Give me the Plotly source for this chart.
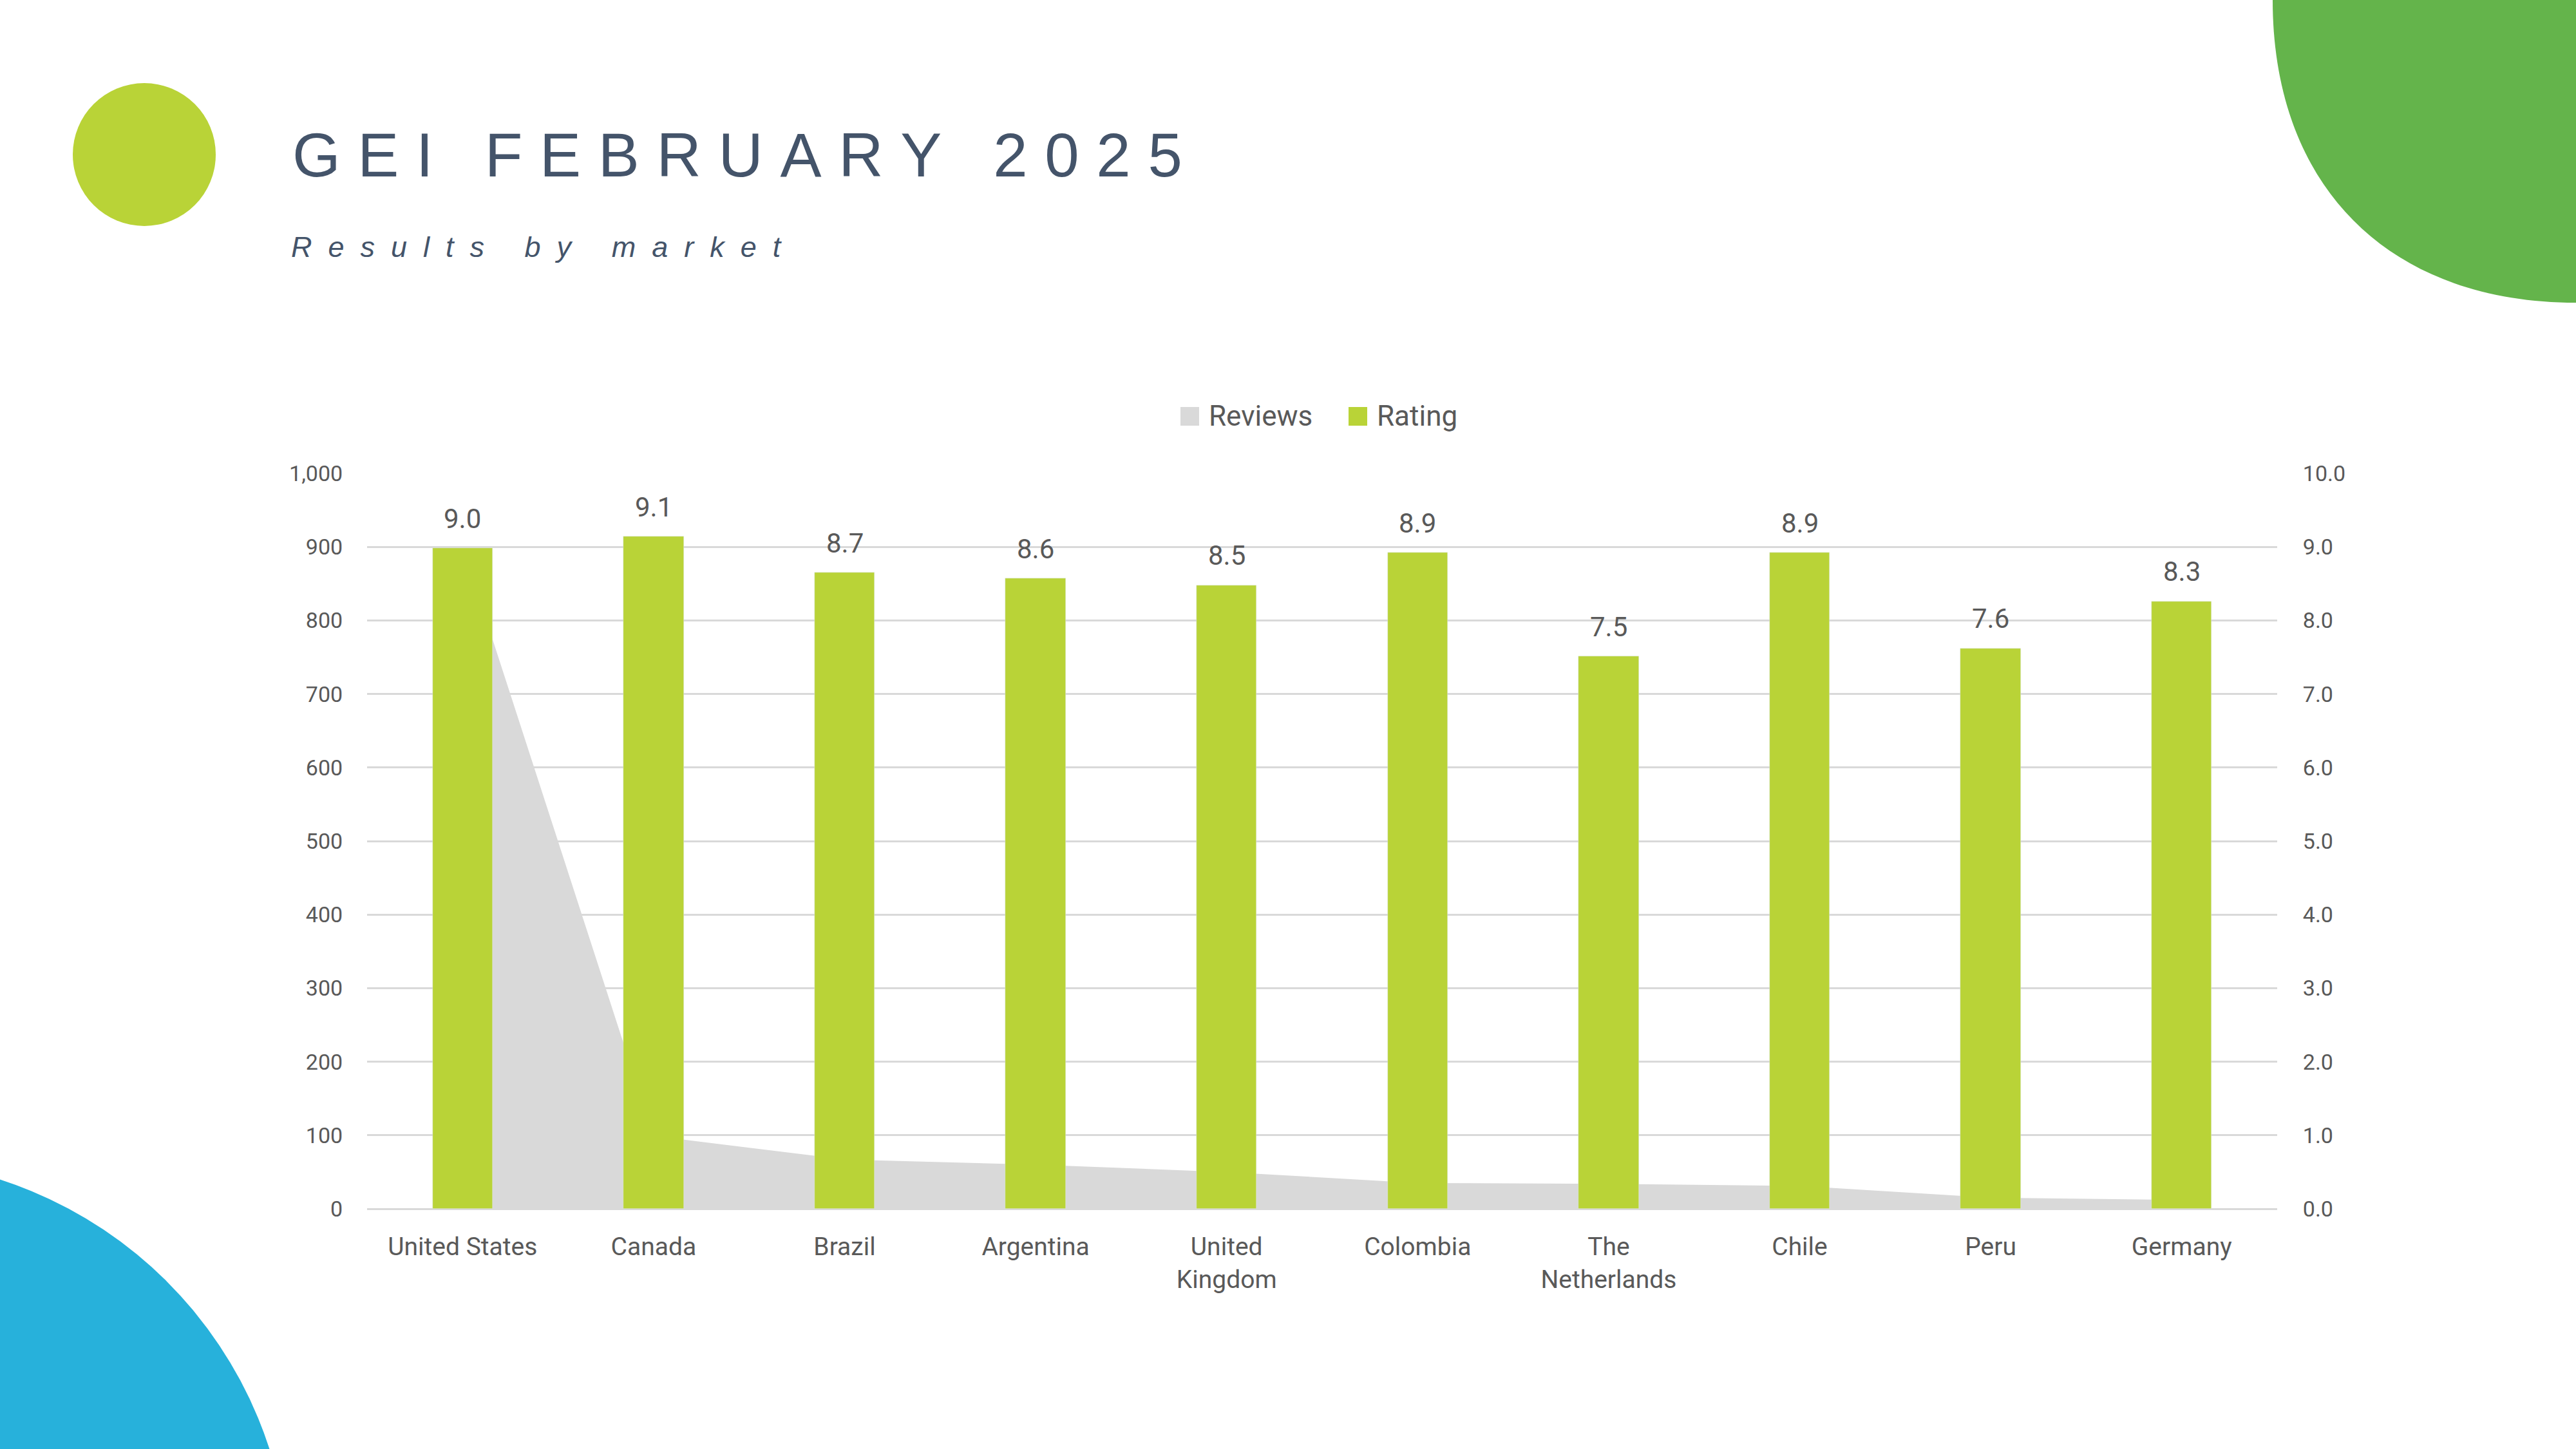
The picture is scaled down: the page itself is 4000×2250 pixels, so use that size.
import plotly.graph_objects as go

# ---------------- data ----------------
markets = ["United States", "Canada", "Brazil", "Argentina", "United<br>Kingdom",
           "Colombia", "The<br>Netherlands", "Chile", "Peru", "Germany"]
reviews = [900, 99, 67, 60, 50, 35, 34, 31, 15, 12]
rating = [8.98, 9.14, 8.65, 8.57, 8.48, 8.92, 7.51, 8.92, 7.62, 8.26]
legend_names = ["Reviews", "Rating"]
title_text = "GEI FEBRUARY 2025"
subtitle_text = "Results by market"

# ---------------- styling ----------------
W, H = 4000, 2250
BAR = "#B9D337"
AREA = "#D9D9D9"
GRID = "#D9D9D9"
TXT = "#595959"
TITLE = "#44546A"
CHART_FONT = "Roboto"
TITLE_FONT = "Liberation Sans"


def px(x):
    return x / W


def py(y):
    return 1 - y / H


def spaced(text, sep, wordsep):
    return wordsep.join(sep.join(list(w)) for w in text.split(" "))


fig = go.Figure()

fig.add_trace(go.Scatter(
    x=markets, y=reviews, name=legend_names[0], mode="none",
    fill="tozeroy", fillcolor=AREA, yaxis="y", showlegend=False,
))
fig.add_trace(go.Bar(
    x=markets, y=rating, name=legend_names[1], marker_color=BAR,
    width=0.315, yaxis="y2", showlegend=False,
))

annotations = []
for m, r in zip(markets, rating):
    annotations.append(dict(
        x=m, y=r, xref="x", yref="y2", text=f"{r:.1f}", showarrow=False,
        yanchor="middle", yshift=46,
        font=dict(family=CHART_FONT, size=42, color=TXT),
    ))

# title & subtitle
annotations.append(dict(
    x=px(452), y=py(240), xref="paper", yref="paper", xanchor="left", yanchor="middle",
    text=spaced(title_text, "\u00a0", "\u00a0\u00a0\u00a0"), showarrow=False,
    font=dict(family=TITLE_FONT, size=96, color=TITLE),
))
annotations.append(dict(
    x=px(450), y=py(384), xref="paper", yref="paper", xanchor="left", yanchor="middle",
    text="<i>" + spaced(subtitle_text, "\u00a0\u00a0", "\u00a0\u00a0\u00a0\u00a0\u00a0") + "</i>",
    showarrow=False,
    font=dict(family=TITLE_FONT, size=45, color=TITLE),
))

# custom legend
shapes = []
leg_items = [(legend_names[0], AREA, 1833), (legend_names[1], BAR, 2094)]
for name, col, x0 in leg_items:
    shapes.append(dict(type="rect", xref="paper", yref="paper",
                       x0=px(x0), x1=px(x0 + 29), y0=py(661), y1=py(632),
                       fillcolor=col, line=dict(width=0)))
    annotations.append(dict(
        x=px(x0 + 42), y=py(646), xref="paper", yref="paper", xanchor="left",
        yanchor="middle", text=name, showarrow=False,
        font=dict(family=CHART_FONT, size=44, color=TXT),
    ))

# decorations
shapes.append(dict(type="circle", xref="paper", yref="paper",
                   x0=px(113), x1=px(335), y0=py(351), y1=py(129),
                   fillcolor=BAR, line=dict(width=0), layer="below"))
p = [(3529, 0), (3529, 290), (3710, 470), (4000, 470)]
path = (f"M {px(4000)},{py(0)} L {px(p[0][0])},{py(p[0][1])} "
        f"C {px(p[1][0])},{py(p[1][1])} {px(p[2][0])},{py(p[2][1])} {px(p[3][0])},{py(p[3][1])} Z")
shapes.append(dict(type="path", xref="paper", yref="paper", path=path,
                   fillcolor="#64B44B", line=dict(width=0), layer="below"))
shapes.append(dict(type="circle", xref="paper", yref="paper",
                   x0=px(-850), x1=px(450), y0=py(3100), y1=py(1800),
                   fillcolor="#27B1DB", line=dict(width=0), layer="below"))

fig.update_layout(
    width=W, height=H,
    margin=dict(l=0, r=0, t=0, b=0),
    paper_bgcolor="white", plot_bgcolor="white",
    bargap=0,
    annotations=annotations,
    shapes=shapes,
    xaxis=dict(
        domain=[px(570), px(3536)], range=[-0.5, 9.5], type="category",
        showgrid=False, showline=False, zeroline=False,
        ticks="outside", ticklen=24, tickcolor="rgba(0,0,0,0)",
        tickfont=dict(family=CHART_FONT, size=39, color=TXT), automargin=False,
    ),
    yaxis=dict(
        domain=[py(1877), py(735)], range=[0, 1000], dtick=100, tickformat=",",
        showgrid=True, gridcolor=GRID, gridwidth=3,
        zeroline=True, zerolinecolor=GRID, zerolinewidth=3, showline=False,
        ticks="outside", ticklen=30, tickcolor="rgba(0,0,0,0)",
        tickfont=dict(family=CHART_FONT, size=34, color=TXT), automargin=False,
    ),
    yaxis2=dict(
        overlaying="y", side="right", range=[0, 10], dtick=1, tickformat=".1f",
        showgrid=False, zeroline=False, showline=False,
        ticks="outside", ticklen=32, tickcolor="rgba(0,0,0,0)",
        tickfont=dict(family=CHART_FONT, size=34, color=TXT), automargin=False,
    ),
)

fig.write_html(
    "out.html",
    config={"displayModeBar": False},
    post_script="document.body.style.margin='0';document.body.style.padding='0';"
                "document.body.style.overflow='hidden';",
)
